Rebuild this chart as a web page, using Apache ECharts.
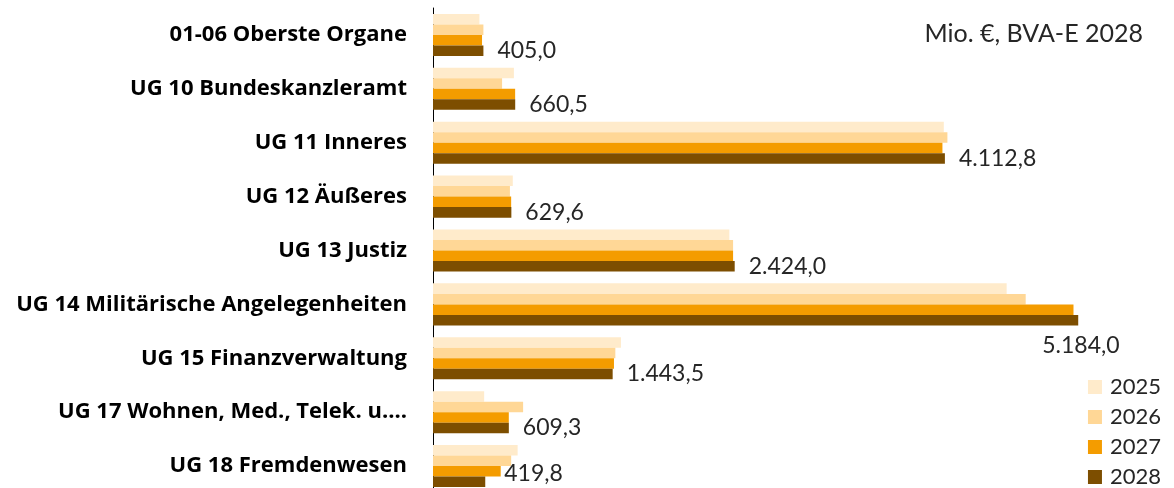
<!DOCTYPE html>
<html>
<head>
<meta charset="utf-8">
<script src="https://cdn.jsdelivr.net/npm/echarts@6/dist/echarts.min.js"></script>
<style>
  html, body { margin: 0; padding: 0; background: #fff; }
  #main { width: 1174px; height: 488px; }
</style>
</head>
<body>
<div id="main"></div>
<script>
var categories = [
  "01-06 Oberste Organe",
  "UG 10 Bundeskanzleramt",
  "UG 11 Inneres",
  "UG 12 Äußeres",
  "UG 13 Justiz",
  "UG 14 Militärische Angelegenheiten",
  "UG 15 Finanzverwaltung",
  "UG 17 Wohnen, Med., Telek. u....",
  "UG 18 Fremdenwesen"
];
var years = ["2025", "2026", "2027", "2028"];
var values2025 = [373, 650, 4104, 641, 2381, 4609, 1510, 411, 680];
var values2026 = [405, 555, 4133, 618, 2411, 4762, 1465, 724, 628];
var values2027 = [394, 660, 4093, 628, 2411, 5146, 1454, 609, 544];
var values2028 = [405.0, 660.5, 4112.8, 629.6, 2424.0, 5184.0, 1443.5, 609.3, 419.8];

var colors = ["#FFEBCB", "#FFD796", "#F49C00", "#7D4E00"];

// German number format: 4.112,8
function fmt(v) {
  var parts = v.toFixed(1).split(".");
  var intPart = parts[0].replace(/\B(?=(\d{3})+(?!\d))/g, ".");
  return intPart + "," + parts[1];
}

// a few labels were moved by hand in the original
var labelOffsets = { 5: [-50, 25], 8: [5, -8] };

var chartDom = document.getElementById("main");
var myChart = echarts.init(chartDom);

var allValues = [values2025, values2026, values2027, values2028];
var series = years.map(function (y, i) {
  var s = {
    name: y,
    type: "bar",
    barGap: "0%",
    barCategoryGap: "22%",
    itemStyle: { color: colors[i] },
    emphasis: { disabled: true },
    data: allValues[i].map(function (v, j) {
      var item = { value: v };
      if (i === 3 && labelOffsets[j]) {
        item.label = { offset: labelOffsets[j] };
      }
      return item;
    })
  };
  if (i === 3) {
    s.label = {
      show: true,
      position: "right",
      distance: 14,
      fontFamily: "Lato",
      fontSize: 23,
      color: "#262626",
      formatter: function (p) { return fmt(p.value); }
    };
  }
  return s;
});

var option = {
  animation: false,
  title: {
    text: "Mio. €, BVA-E 2028",
    right: 26,
    top: 16,
    textStyle: { fontFamily: "Lato", fontSize: 25, fontWeight: "normal", color: "#262626" }
  },
  legend: {
    data: years,
    orient: "vertical",
    right: 8,
    bottom: -5,
    icon: "rect",
    itemWidth: 14,
    itemHeight: 14,
    itemGap: 8,
    textStyle: { fontFamily: "Lato", fontSize: 22, color: "#262626", padding: [0, 0, 0, 3] }
  },
  grid: {
    left: 433,
    top: 8,
    width: 697,
    height: 485,
    containLabel: false,
    outerBoundsMode: "none"
  },
  xAxis: {
    type: "value",
    min: 0,
    max: 5600,
    show: false
  },
  yAxis: {
    type: "category",
    inverse: true,
    data: categories,
    axisLine: { show: true, lineStyle: { color: "#000", width: 1 } },
    axisTick: { show: false },
    axisLabel: {
      margin: 26,
      fontFamily: "Open Sans",
      fontWeight: "bold",
      fontSize: 22,
      color: "#000"
    }
  },
  series: series
};

option && myChart.setOption(option);
</script>
</body>
</html>
